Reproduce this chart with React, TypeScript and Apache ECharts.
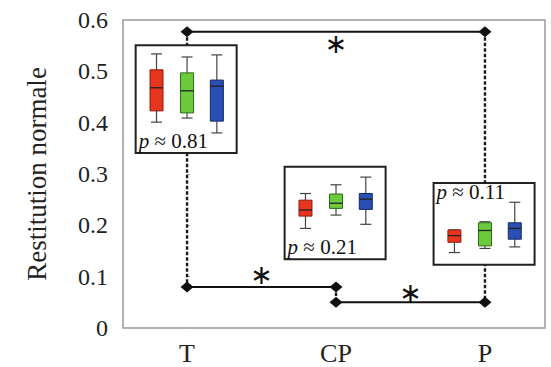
import React, { useEffect, useRef } from 'react';
import * as echarts from 'echarts';

const categories = ['T', 'CP', 'P'];
const yTicks = [0, 0.1, 0.2, 0.3, 0.4, 0.5, 0.6];
// box statistics per category: [min, Q1, median, Q3, max]
const redStats = [
  [0.401, 0.423, 0.468, 0.503, 0.534],
  [0.194, 0.218, 0.230, 0.249, 0.262],
  [0.147, 0.167, 0.180, 0.191, 0.191],
];
const greenStats = [
  [0.409, 0.419, 0.462, 0.497, 0.528],
  [0.220, 0.233, 0.243, 0.261, 0.279],
  [0.155, 0.160, 0.190, 0.205, 0.207],
];
const blueStats = [
  [0.380, 0.403, 0.471, 0.483, 0.532],
  [0.202, 0.231, 0.251, 0.262, 0.294],
  [0.158, 0.173, 0.194, 0.205, 0.245],
];
const pValues = ['0.81', '0.21', '0.11'];
// significance brackets
const sigFrom = [0, 0, 1];
const sigTo = [2, 1, 2];
const sigLevel = [0.577, 0.08, 0.05];
const sigText = ['∗', '∗', '∗'];
// dashed guides per category
const guideTop = [0.577, 0.08, 0.577];
const guideBottom = [0.08, 0.05, 0.05];
// inset frames (value extents)
const insetTop = [0.551, 0.314, 0.2825];
const insetBottom = [0.341, 0.134, 0.123];

const FONT = '"Liberation Serif", "DejaVu Serif", serif';
const groupOffsets = [-0.205, 0, 0.2];
const groupColors = [
  { fill: '#e8361e', stroke: '#8a1e10' },
  { fill: '#6ccb3c', stroke: '#2f6a1a' },
  { fill: '#2a4fb3', stroke: '#14296a' },
];
const insetLeft = -0.345;
const insetRight = 0.333;
const pPlace = ['bottom', 'bottom', 'top'];
const sigDir = [1, -1, -1];
const sigGap = [12, 12, 10];

function boxSeries(stats: number[][], g: number) {
  const col = groupColors[g];
  return {
    type: 'custom',
    z: 5,
    data: stats.map((s, i) => [i + groupOffsets[g], ...s]),
    renderItem: (params: any, api: any) => {
      const x = api.value(0);
      const c = (v: number) => api.coord([x, v]);
      const [cx, yMin] = c(api.value(1));
      const yQ1 = c(api.value(2))[1];
      const yMed = c(api.value(3))[1];
      const yQ3 = c(api.value(4))[1];
      const yMax = c(api.value(5))[1];
      const hw = 6.5;
      const cw = 5.5;
      const ws = { stroke: '#444', lineWidth: 1.2 };
      return {
        type: 'group',
        children: [
          { type: 'line', shape: { x1: cx, y1: yMax, x2: cx, y2: yQ3 }, style: ws },
          { type: 'line', shape: { x1: cx, y1: yQ1, x2: cx, y2: yMin }, style: ws },
          { type: 'line', shape: { x1: cx - cw, y1: yMax, x2: cx + cw, y2: yMax }, style: ws },
          { type: 'line', shape: { x1: cx - cw, y1: yMin, x2: cx + cw, y2: yMin }, style: ws },
          {
            type: 'rect',
            shape: { x: cx - hw, y: yQ3, width: 2 * hw, height: Math.max(1, yQ1 - yQ3) },
            style: { fill: col.fill, stroke: col.stroke, lineWidth: 1 },
          },
          {
            type: 'line',
            shape: { x1: cx - hw, y1: yMed, x2: cx + hw, y2: yMed },
            style: { stroke: '#222', lineWidth: 1.3 },
          },
        ],
      };
    },
  };
}

export default function App() {
  const ref = useRef<HTMLDivElement>(null);
  useEffect(() => {
    if (!ref.current) return;
    const chart = echarts.init(ref.current, undefined, { renderer: 'svg' });

    const guideSeries = categories.map((_, i) => ({
      type: 'line',
      z: 1,
      symbol: 'none',
      silent: true,
      data: [
        [i, guideTop[i]],
        [i, guideBottom[i]],
      ],
      lineStyle: { color: '#1a1a1a', width: 2.4, type: [3.5, 2] },
    }));

    const sigSeries = sigFrom.map((f, k) => ({
      type: 'line',
      z: 2,
      symbol: 'diamond',
      symbolSize: [13, 11],
      silent: true,
      itemStyle: { color: '#111' },
      lineStyle: { color: '#111', width: 2 },
      data: [
        [f, sigLevel[k]],
        [sigTo[k], sigLevel[k]],
      ],
    }));

    const starSeries = {
      type: 'custom',
      z: 3,
      data: sigFrom.map((f, k) => [(f + sigTo[k]) / 2, sigLevel[k], k]),
      renderItem: (params: any, api: any) => {
        const k = api.value(2);
        const [px, py] = api.coord([api.value(0), api.value(1)]);
        return {
          type: 'text',
          x: px,
          y: py + sigDir[k] * sigGap[k],
          style: {
            text: sigText[k],
            fontFamily: '"DejaVu Sans", sans-serif',
            fontSize: 27,
            fill: '#111',
            align: 'center',
            verticalAlign: 'middle',
          },
        };
      },
    };

    const insetSeries = {
      type: 'custom',
      z: 4,
      data: categories.map((_, i) => [i, insetTop[i], insetBottom[i]]),
      renderItem: (params: any, api: any) => {
        const i = params.dataIndex;
        const x = api.value(0);
        const [x0, y0] = api.coord([x + insetLeft, api.value(1)]);
        const [x1, y1] = api.coord([x + insetRight, api.value(2)]);
        const ty = pPlace[i] === 'bottom' ? y1 - 12 : y0 + 9;
        return {
          type: 'group',
          children: [
            {
              type: 'rect',
              shape: { x: x0, y: y0, width: x1 - x0, height: y1 - y0 },
              style: { fill: '#fff', stroke: '#222', lineWidth: 2 },
            },
            {
              type: 'text',
              x: x0 + 3,
              y: ty,
              style: {
                text: '{i|p} ≈ ' + pValues[i],
                fontFamily: FONT,
                fontSize: 21,
                fill: '#111',
                align: 'left',
                verticalAlign: 'middle',
                rich: {
                  i: { fontStyle: 'italic', fontFamily: FONT, fontSize: 21, fill: '#111' },
                },
              },
            },
          ],
        };
      },
    };

    chart.setOption({
      animation: false,
      backgroundColor: '#fff',
      grid: {
        left: 123,
        right: 6,
        top: 20,
        bottom: 39,
        show: true,
        borderColor: '#9a9a9a',
        borderWidth: 1.5,
        backgroundColor: 'transparent',
      },
      xAxis: {
        type: 'value',
        min: -0.43,
        max: 2.403,
        axisLine: { show: false },
        splitLine: { show: false },
        axisTick: { show: false },
        axisLabel: {
          customValues: [0, 1, 2],
          formatter: (v: number) => categories[Math.round(v)] ?? '',
          fontFamily: FONT,
          fontSize: 26,
          color: '#222',
          margin: 12,
        },
      },
      yAxis: {
        type: 'value',
        min: 0,
        max: 0.6,
        interval: 0.1,
        name: 'Restitution normale',
        nameLocation: 'middle',
        nameRotate: 90,
        nameGap: 73,
        nameTextStyle: { fontFamily: FONT, fontSize: 27, color: '#222' },
        axisLine: { show: false },
        splitLine: { show: false },
        axisTick: { show: true, inside: true, length: 3, lineStyle: { color: '#aaa' } },
        axisLabel: {
          formatter: (v: number) => {
            const t = yTicks.find((y) => Math.abs(y - v) < 1e-6);
            return t === undefined ? '' : t === 0 ? '0' : t.toFixed(1);
          },
          fontFamily: FONT,
          fontSize: 24,
          color: '#222',
          margin: 15,
        },
      },
      series: [
        ...guideSeries,
        ...sigSeries,
        starSeries,
        insetSeries,
        boxSeries(redStats, 0),
        boxSeries(greenStats, 1),
        boxSeries(blueStats, 2),
      ],
    });
    return () => chart.dispose();
  }, []);
  return <div ref={ref} style={{ width: 551, height: 367, position: 'absolute', left: 0, top: 0 }} />;
}
